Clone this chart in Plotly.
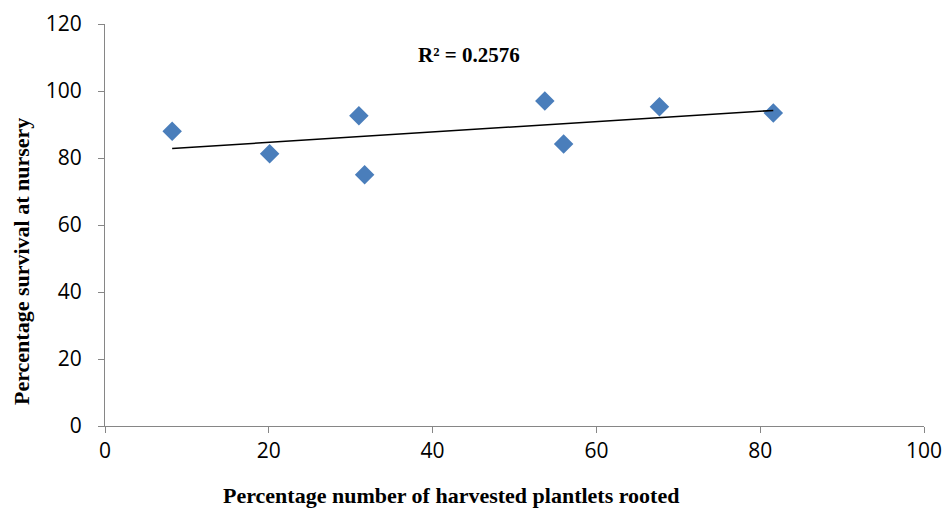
import numpy as np
import plotly.graph_objects as go

# Data
rooted_pct = [8.2, 20.1, 31.0, 31.7, 53.7, 56.0, 67.7, 81.6]
survival_pct = [88.0, 81.3, 92.6, 75.0, 97.0, 84.2, 95.3, 93.4]
r2_label = "R² = 0.2576"
x_title = "Percentage number of harvested plantlets rooted"
y_title = "Percentage survival at nursery"

# Linear trendline fitted to the data
slope, intercept = np.polyfit(rooted_pct, survival_pct, 1)
tx = [min(rooted_pct), max(rooted_pct)]
ty = [slope * v + intercept for v in tx]

fig = go.Figure()
fig.add_trace(go.Scatter(
    x=rooted_pct, y=survival_pct, mode="markers",
    marker=dict(symbol="diamond", size=15, color="#4A7EBB",
                line=dict(width=0)),
    showlegend=False,
))
fig.add_trace(go.Scatter(
    x=tx, y=ty, mode="lines",
    line=dict(color="black", width=1.5),
    showlegend=False,
))

axis_common = dict(
    showgrid=False, zeroline=False, showline=True, automargin=False,
    linecolor="#868686", linewidth=1.2,
    ticks="outside", ticklen=6, tickcolor="#868686",
    tickfont=dict(family="Open Sans, Noto Sans, sans-serif", size=21, color="black"),
)
fig.update_xaxes(range=[0, 100], dtick=20, ticklabelstandoff=0, **axis_common)
fig.update_yaxes(range=[0, 120], dtick=20, ticklabelstandoff=12, **axis_common)

W, H = 943, 510
L, T = 105, 24
R = W - L - 819
B = H - T - 402
pw, ph = W - L - R, H - T - B

def px_to_paper(px, py):
    return (px - L) / pw, (H - B - py) / ph

ax_x, ax_y = px_to_paper(451, 495)
ay_x, ay_y = px_to_paper(21, 262)

fig.add_annotation(
    text="<b>" + r2_label + "</b>", x=44.4, y=110.8, xref="x", yref="y", showarrow=False,
    font=dict(family="Liberation Serif, Times New Roman, serif", size=21, color="black"),
    xanchor="center", yanchor="middle",
)
fig.add_annotation(
    text="<b>" + x_title + "</b>", x=ax_x, y=ax_y, xref="paper", yref="paper",
    showarrow=False, xanchor="center", yanchor="middle",
    font=dict(family="Liberation Serif, Times New Roman, serif", size=22, color="black"),
)
fig.add_annotation(
    text="<b>" + y_title + "</b>", x=ay_x, y=ay_y, xref="paper", yref="paper",
    showarrow=False, textangle=-90, xanchor="center", yanchor="middle",
    font=dict(family="Liberation Serif, Times New Roman, serif", size=22, color="black"),
)

fig.update_layout(
    width=W, height=H,
    margin=dict(l=L, r=R, t=T, b=B),
    paper_bgcolor="white", plot_bgcolor="white",
)
fig.write_html(
    "out.html",
    config={"displayModeBar": False},
    post_script="document.body.style.margin='0';document.body.style.overflow='hidden';",
)
